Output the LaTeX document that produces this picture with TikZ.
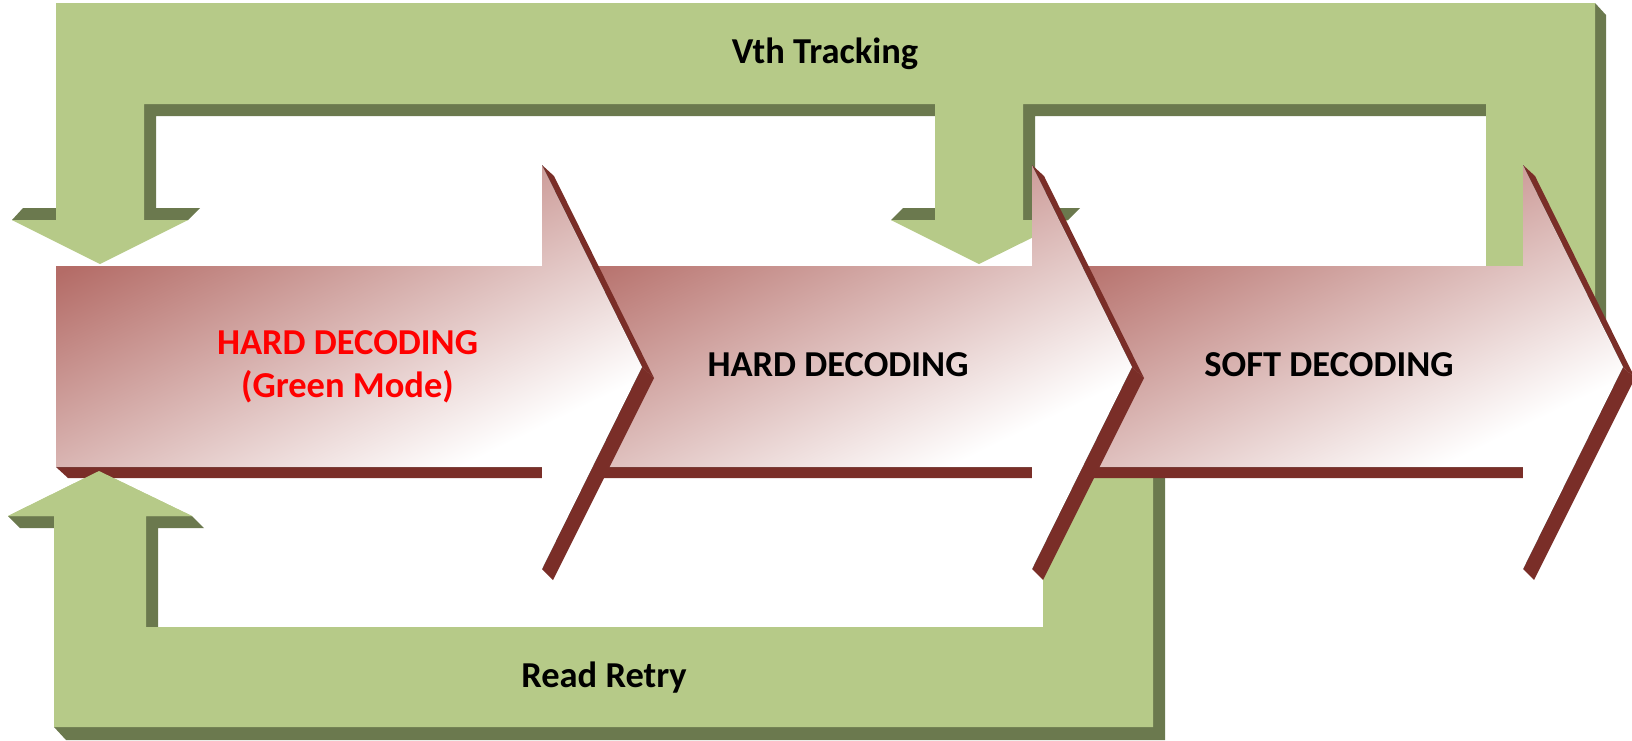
\documentclass[tikz,border=0pt]{standalone}
\usepackage{fontspec}
\setmainfont{Carlito}
\definecolor{gface}{HTML}{B6CA88}
\definecolor{gdark}{HTML}{6B794E}
\definecolor{rshadow}{HTML}{7A2E28}
\definecolor{rdark}{HTML}{B46C67}
\definecolor{rdarker}{HTML}{AE635E}
\pgfdeclarehorizontalshading{arrowfade}{100bp}{color(0bp)=(rdarker); color(27bp)=(rdark); color(65bp)=(white); color(100bp)=(white)}
% #1 = left end of the body, #2 = x of the arrow neck
\newcommand{\chevarrow}[2]{%
  % extruded side faces (dark red)
  \fill[ashadow] (#1,467) -- (#2,467) -- ({#2+12},478) -- ({#1+12},478) -- cycle;
  \fill[ashadow] (#2,165) -- ({#2+100},367) -- ({#2+112},378) -- ({#2+12},176) -- cycle;
  \fill[ashadow] ({#2+100},367) -- (#2,569) -- ({#2+11},580) -- ({#2+112},378) -- cycle;
  % front face
  \fill[aface] (#1,266) -- (#2,266) -- (#2,165) -- ({#2+100},367) -- (#2,569) -- (#2,467) -- (#1,467) -- cycle;
}
\begin{document}
\begin{tikzpicture}[x=1pt,y=-1pt,
  gfill/.style={fill=gface},
  gshade/.style={fill=gdark},
  ashadow/.style={fill=rshadow},
  aface/.style={shading=arrowfade, shading angle=-64},
  lbl/.style={font=\fontsize{36.5}{42}\selectfont\bfseries, anchor=base, inner sep=0pt}]
\useasboundingbox (0,0) rectangle (1632,740);

% ---- Vth Tracking (top green loop) ----
\fill[gshade] (1595,3) -- (1606,15) -- (1606,360) -- (1595,360) -- cycle;
\fill[gshade] (144,104) -- (935,104) -- (935,116) -- (156,116) -- (156,208) -- (200,208) -- (188,220) -- (144,220) -- cycle;
\fill[gshade] (1023,104) -- (1486,104) -- (1486,116) -- (1035,116) -- (1035,208) -- (1080,208) -- (1068,220) -- (1023,220) -- cycle;
\fill[gshade] (23,208) -- (56,208) -- (56,220) -- (12,220) -- cycle;
\fill[gshade] (903,208) -- (935,208) -- (935,220) -- (891,220) -- cycle;
\fill[gfill] (56,3) -- (1595,3) -- (1595,360) -- (1486,360) -- (1486,104) -- (1023,104) -- (1023,220) -- (1068,220) -- (979,264) -- (891,220) -- (935,220) -- (935,104) -- (144,104) -- (144,220) -- (188,220) -- (100,264) -- (12,220) -- (56,220) -- cycle;

% ---- Read Retry (bottom green loop) ----
\fill[gshade] (54,727) -- (1153,727) -- (1153,470) -- (1165,470) -- (1165,740) -- (66,740) -- cycle;
\fill[gshade] (146,516) -- (192,516) -- (204,528) -- (158,528) -- (158,627) -- (146,627) -- cycle;
\fill[gshade] (8,516) -- (54,516) -- (54,528) -- (20,528) -- cycle;
\fill[gfill] (54,727) -- (1153,727) -- (1153,470) -- (1043,470) -- (1043,627) -- (146,627) -- (146,516) -- (192,516) -- (99,471) -- (8,516) -- (54,516) -- cycle;

% ---- decoding arrows ----
\chevarrow{1037}{1523}
\chevarrow{546}{1032}
\chevarrow{56}{542}

% tip of the Read Retry arrow lies over the first arrow's edge
\fill[gfill] (8,516) -- (99,471) -- (192,516) -- cycle;

% ---- labels ----
\node[lbl, text=red] (hd1) at (347.5,354) {HARD DECODING};
\node[lbl, text=red] (gm) at (347.5,397) {(Green Mode)};
\node[lbl] (hd2) at (838,376) {HARD DECODING};
\node[lbl] (sd) at (1329,376) {SOFT DECODING};
\node[lbl] (vth) at (825,63) {Vth Tracking};
\node[lbl] (rr) at (604,687) {Read Retry};
\end{tikzpicture}
\end{document}
